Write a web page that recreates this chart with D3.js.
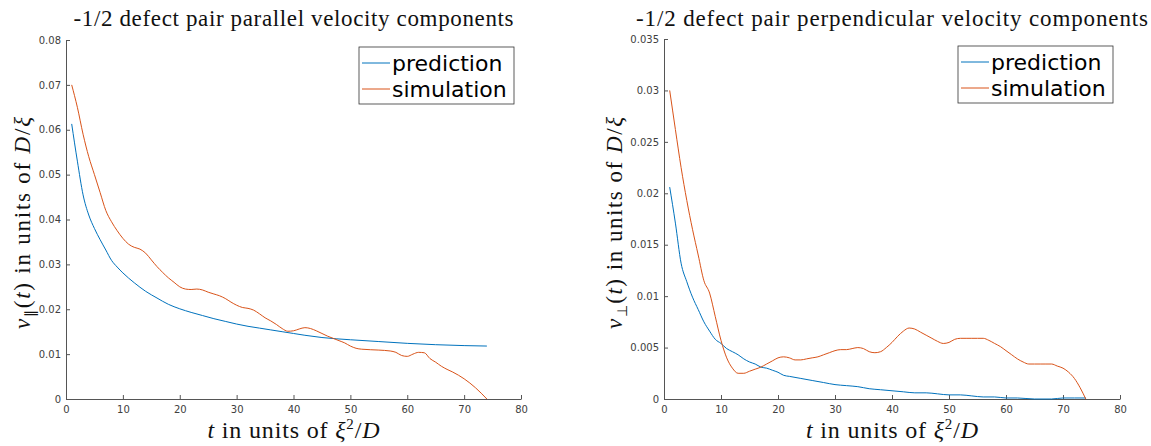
<!DOCTYPE html>
<html lang="en">
<head>
<meta charset="UTF-8">
<title>-1/2 defect pair velocity components</title>
<script src="https://d3js.org/d3.v7.min.js"></script>
<style>
    body { margin: 0; background: #fff; }
    .tick text { font: 10px "DejaVu Sans", sans-serif; fill: #404040; }
    .axis path, .axis line { stroke: #555; }
    .math { font-family: "Liberation Serif", serif; fill: #111; }
    .legend text { font: 22px "DejaVu Sans", sans-serif; fill: #000; }
</style>
</head>
<body>
<svg width="1151" height="446"></svg>
<script>
    // parallel components (left panel)
    const tPredPar = [1, 2, 3, 4, 5, 6, 7, 8, 9, 10, 12, 14, 16, 18, 20, 22, 24, 26, 28, 30, 32, 34, 36, 38, 40, 42, 45, 50, 55, 60, 65, 70, 74];
    const predPar = [0.0613, 0.0530, 0.0455, 0.0410, 0.0380, 0.0355, 0.0332, 0.0309, 0.0294, 0.0281, 0.0259, 0.0240, 0.0225, 0.0211, 0.0201, 0.0193, 0.0186, 0.0179, 0.0173, 0.0167, 0.0162, 0.0158, 0.0154, 0.0150, 0.0146, 0.0142, 0.0137, 0.0132, 0.0128, 0.0124, 0.0121, 0.0119, 0.0118];
    const tSimPar = [1, 2, 3, 4, 5, 6, 7, 8, 9, 10, 11, 12, 13, 14, 15, 16, 17, 18, 19, 20, 21, 22, 23, 24, 25, 26, 27, 28, 29, 30, 31, 32, 33, 34, 35, 36, 37, 38, 39, 40, 41, 42, 43, 44, 45, 46, 47, 48, 49, 50, 51, 52, 55, 57, 58, 59, 60, 61, 62, 63, 64, 65, 66, 67, 68, 70, 72, 74];
    const simPar = [0.0700, 0.0650, 0.0590, 0.0540, 0.0500, 0.0460, 0.0420, 0.0395, 0.0375, 0.0358, 0.0345, 0.0338, 0.0334, 0.0325, 0.0310, 0.0295, 0.0282, 0.0270, 0.0260, 0.0250, 0.0245, 0.0244, 0.0245, 0.0243, 0.0238, 0.0234, 0.0230, 0.0224, 0.0216, 0.0209, 0.0204, 0.0202, 0.0198, 0.0190, 0.0181, 0.0174, 0.0166, 0.0157, 0.0151, 0.0152, 0.0156, 0.0159, 0.0157, 0.0152, 0.0146, 0.0140, 0.0135, 0.0130, 0.0125, 0.0118, 0.0113, 0.0111, 0.0109, 0.0107, 0.0104, 0.0097, 0.0095, 0.0100, 0.0104, 0.0103, 0.0090, 0.0082, 0.0073, 0.0066, 0.0060, 0.0045, 0.0025, 0.0000];

    // perpendicular components (right panel)
    const tPredPerp = [1, 2, 3, 4, 5, 6, 7, 8, 9, 10, 11, 12, 13, 14, 15, 16, 17, 18, 19, 20, 21, 22, 24, 26, 28, 30, 32, 34, 36, 38, 40, 42, 44, 46, 48, 50, 52, 54, 56, 58, 60, 62, 65, 68, 70, 72, 74];
    const predPerp = [0.0206, 0.0171, 0.0132, 0.0114, 0.0099, 0.0087, 0.0075, 0.0066, 0.0058, 0.0054, 0.0049, 0.0046, 0.0043, 0.0039, 0.0036, 0.0034, 0.0031, 0.0030, 0.0028, 0.0026, 0.0023, 0.0022, 0.0020, 0.0018, 0.0016, 0.0014, 0.0013, 0.0012, 0.0010, 0.0009, 0.0008, 0.0007, 0.0006, 0.0006, 0.0005, 0.0004, 0.0004, 0.0003, 0.0002, 0.0002, 0.0001, 0.0001, 0.0000, 0.0000, 0.0001, 0.0001, 0.0001];
    const tSimPerp = d3.range(1, 75);
    const simPerp = [0.0300, 0.0262, 0.0225, 0.0193, 0.0165, 0.0140, 0.0115, 0.0103, 0.0080, 0.0057, 0.0040, 0.0030, 0.0025, 0.0025, 0.0027, 0.0029, 0.0031, 0.0034, 0.0037, 0.0040, 0.0041, 0.0040, 0.0038, 0.0038, 0.0039, 0.0040, 0.0041, 0.0043, 0.0045, 0.0047, 0.0048, 0.0048, 0.0049, 0.0050, 0.0049, 0.0046, 0.0045, 0.0046, 0.0050, 0.0055, 0.0061, 0.0066, 0.0069, 0.0068, 0.0065, 0.0062, 0.0059, 0.0056, 0.0054, 0.0055, 0.0058, 0.0059, 0.0059, 0.0059, 0.0059, 0.0059, 0.0057, 0.0054, 0.0051, 0.0047, 0.0043, 0.0039, 0.0036, 0.0034, 0.0034, 0.0034, 0.0034, 0.0034, 0.0032, 0.0030, 0.0026, 0.0020, 0.0011, 0.0000];

    const xTicks = [0, 10, 20, 30, 40, 50, 60, 70, 80];
    const yTicksPar = [0, 0.01, 0.02, 0.03, 0.04, 0.05, 0.06, 0.07, 0.08];
    const yTicksPerp = [0, 0.005, 0.01, 0.015, 0.02, 0.025, 0.03, 0.035];
    const seriesNames = ["prediction", "simulation"];
    const colors = ["#0072BD", "#D95319"];

    const svg = d3.select("svg");

    function drawPanel(p) {
        const x = d3.scaleLinear().domain([0, 80]).range([p.left, p.right]);
        const y = d3.scaleLinear().domain([0, p.yMax]).range([p.bottom, p.top]);
        const g = svg.append("g");

        g.append("g").attr("class", "axis")
            .attr("transform", "translate(0," + p.bottom + ")")
            .call(d3.axisBottom(x).tickValues(xTicks).tickFormat(d3.format("d"))
                .tickSizeInner(-4).tickSizeOuter(0).tickPadding(7));
        g.append("g").attr("class", "axis")
            .attr("transform", "translate(" + p.left + ",0)")
            .call(d3.axisLeft(y).tickValues(p.yTicks).tickFormat(d => d === 0 ? "0" : String(+d.toFixed(3)))
                .tickSizeInner(-4).tickSizeOuter(0).tickPadding(5));

        const line = d3.line().x(d => x(d[0])).y(d => y(d[1])).curve(d3.curveMonotoneX);
        const series = [d3.zip(p.tPred, p.pred), d3.zip(p.tSim, p.sim)];
        series.forEach((s, i) => {
            g.append("path").datum(s)
                .attr("fill", "none")
                .attr("stroke", colors[i])
                .attr("stroke-width", 1)
                .attr("d", line);
        });

        const cx = (p.left + p.right) / 2;

        // title (widths stretched to match the LaTeX font of the original)
        g.append("text").attr("class", "math")
            .attr("x", cx).attr("y", 26)
            .attr("text-anchor", "middle")
            .attr("textLength", p.titleWidth).attr("lengthAdjust", "spacing")
            .style("font-size", "23px")
            .text(p.title);

        // x label
        const xl = g.append("text").attr("class", "math")
            .attr("x", cx).attr("y", 438)
            .attr("text-anchor", "middle")
            .attr("textLength", 172).attr("lengthAdjust", "spacing")
            .style("font-size", "24px");
        xl.append("tspan").style("font-style", "italic").text("t");
        xl.append("tspan").text(" in units of ");
        xl.append("tspan").style("font-style", "italic").text("ξ");
        xl.append("tspan").attr("dy", -9).style("font-size", "15px").text("2");
        xl.append("tspan").attr("dy", 9).text("/");
        xl.append("tspan").style("font-style", "italic").text("D");

        // y label
        const yl = g.append("text").attr("class", "math")
            .attr("transform", "translate(" + p.yLabelX + ",223) rotate(-90)")
            .attr("text-anchor", "middle")
            .attr("textLength", 212).attr("lengthAdjust", "spacing")
            .style("font-size", "23px");
        yl.append("tspan").style("font-style", "italic").text("v");
        yl.append("tspan").attr("dy", 5).style("font-size", "14px").text(p.sub);
        yl.append("tspan").attr("dy", -5).text("(");
        yl.append("tspan").style("font-style", "italic").text("t");
        yl.append("tspan").text(") in units of ");
        yl.append("tspan").style("font-style", "italic").text("D");
        yl.append("tspan").text("/");
        yl.append("tspan").style("font-style", "italic").text("ξ");

        // legend
        const lw = 155, lh = 57;
        const lx = p.right - 7 - lw, ly = p.top + 7;
        const leg = g.append("g").attr("class", "legend");
        leg.append("rect").attr("x", lx).attr("y", ly).attr("width", lw).attr("height", lh)
            .attr("fill", "#fff").attr("stroke", "#333").attr("stroke-width", 0.8);
        seriesNames.forEach((name, i) => {
            const cy = ly + 16 + i * 26;
            leg.append("line").attr("x1", lx + 3).attr("x2", lx + 31)
                .attr("y1", cy).attr("y2", cy)
                .attr("stroke", colors[i]).attr("stroke-width", 1);
            leg.append("text").attr("x", lx + 33).attr("y", cy + 8).text(name);
        });
    }

    drawPanel({
        left: 66, right: 521, top: 40, bottom: 399, yMax: 0.08, yTicks: yTicksPar,
        tPred: tPredPar, pred: predPar, tSim: tSimPar, sim: simPar,
        title: "-1/2 defect pair parallel velocity components", titleWidth: 440,
        sub: "∥", yLabelX: 30
    });
    drawPanel({
        left: 664, right: 1120, top: 39, bottom: 399, yMax: 0.035, yTicks: yTicksPerp,
        tPred: tPredPerp, pred: predPerp, tSim: tSimPerp, sim: simPerp,
        title: "-1/2 defect pair perpendicular velocity components", titleWidth: 512,
        sub: "⊥", yLabelX: 622
    });
</script>
</body>
</html>
